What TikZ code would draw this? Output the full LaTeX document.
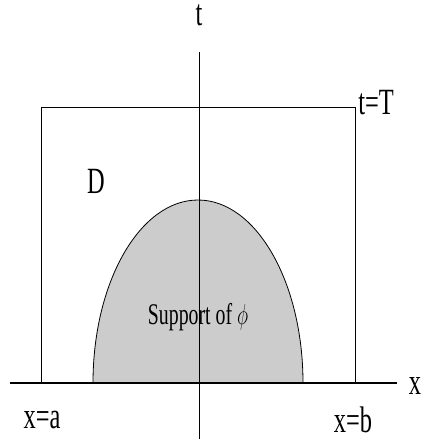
\documentclass[tikz,border=0pt]{standalone}
\usepackage{fontspec}
\usepackage{graphicx}
\setmainfont{Liberation Serif}
\usetikzlibrary{positioning}
\definecolor{suppgray}{HTML}{CCCCCC}
\newcommand{\narrow}[1]{\scalebox{0.66}[1]{#1}}

\begin{document}
\begin{tikzpicture}[
        x=0.5pt, y=-0.5pt,
        lbl/.style={
            inner sep=0pt,
            font=\fontsize{18.5}{22}\selectfont
        },
        thinline/.style={
            line width=0.5pt
        },
        xaxis/.style={
            line width=1pt
        },
        supp/.style={
            draw,
            line width=0.4pt,
            fill=suppgray
        }
    ]
    \useasboundingbox (0,0) rectangle (423,445);

    % corners of the domain D
    \coordinate (bl) at (41,383);
    \coordinate (tl) at (41,107);
    \coordinate (tr) at (355,107);
    \coordinate (br) at (355,383);

    % axis end points
    \coordinate (xs) at (10,383);
    \coordinate (xe) at (397,383);
    \coordinate (ts) at (199,439);
    \coordinate (te) at (199,52);

    % support of phi: half ellipse on the x axis
    \coordinate (sl) at (93,383);
    \draw[supp] (sl) arc[start angle=180, end angle=360, x radius=105, y radius=183] -- cycle;

    \draw[thinline] (bl) -- (tl) -- (tr) -- (br);
    \draw[thinline] (ts) -- (te);
    \draw[xaxis] (xs) -- (xe);

    \node[lbl, anchor=base] (tlab) at (199,25) {\narrow{t}};
    \node[lbl] (xlab) at (415,386) {\narrow{x}};
    \node[lbl, anchor=west] (tT) at (358,103) {\narrow{t=T}};
    \node[lbl] (xa) at (42,420) {\narrow{x=a}};
    \node[lbl] (xb) at (353,420) {\narrow{x=b}};
    \node[lbl] (D) at (96,181) {\narrow{D}};
    \node[lbl, font=\fontsize{15}{18}\selectfont] (supptext) at (198,317) {\narrow{Support of $\phi$}};

\end{tikzpicture}
\end{document}
